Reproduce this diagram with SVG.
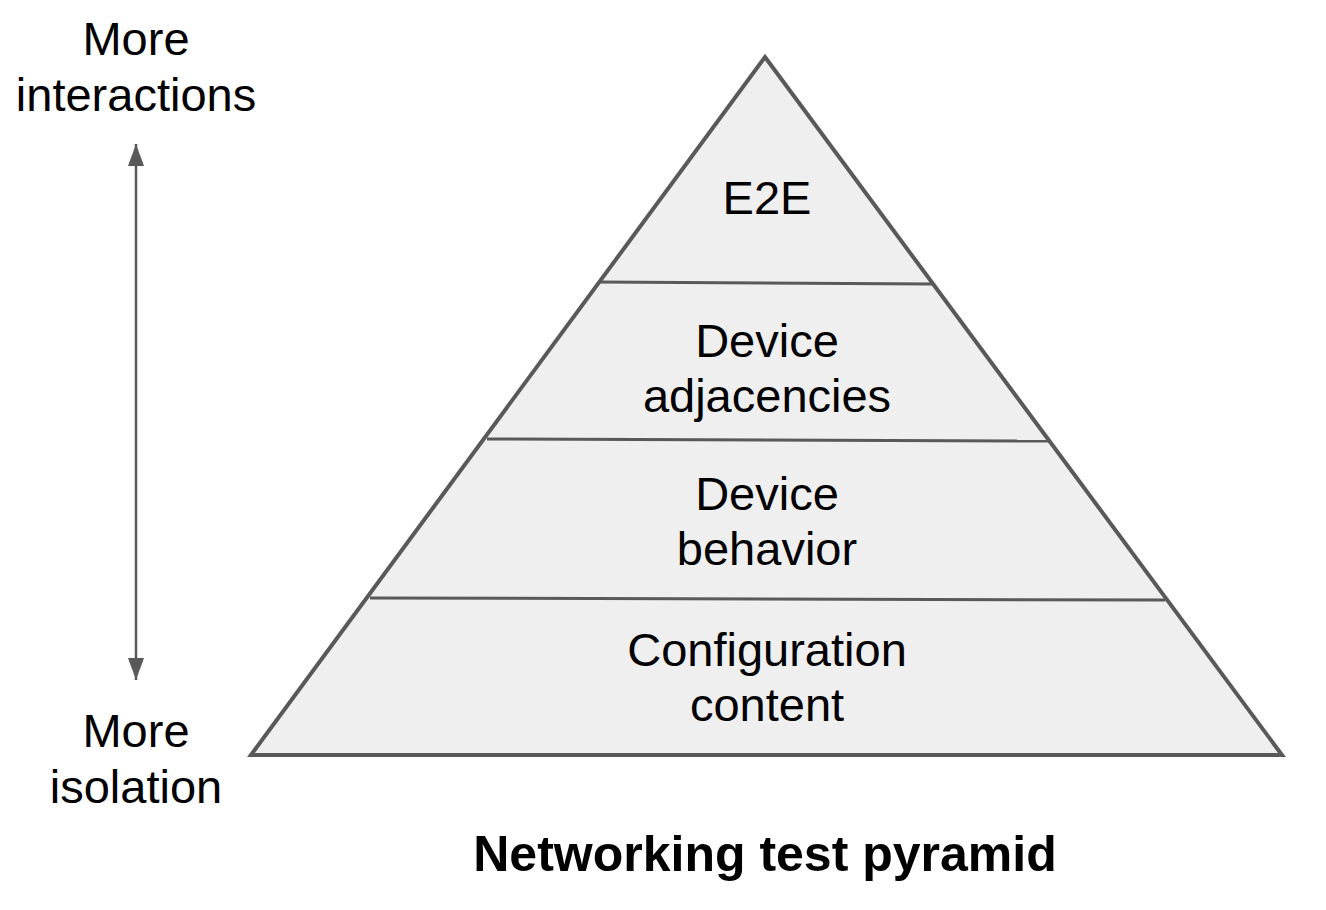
<svg xmlns="http://www.w3.org/2000/svg" width="1326" height="910" viewBox="0 0 1326 910">
<style>
.t{font-family:"Liberation Sans",Arial,sans-serif;font-size:47px;fill:#000;text-anchor:middle}
.b{font-family:"Liberation Sans",Arial,sans-serif;font-size:50px;font-weight:bold;fill:#000;text-anchor:middle}
.ln{stroke:#595959;stroke-width:3;fill:none}
</style>
<defs>
<marker id="ah" viewBox="0 0 22 16" refX="22" refY="8" markerWidth="22" markerHeight="16" markerUnits="userSpaceOnUse" orient="auto-start-reverse">
<path d="M0,0 L22,8 L0,16 z" fill="#595959"/>
</marker>
</defs>
<rect width="1326" height="910" fill="#fff"/>
<g id="pyramid">
<polygon points="765,57 1282,755 251,755" fill="#efefef" stroke="#595959" stroke-width="4" stroke-linejoin="miter"/>
</g>
<g id="connectors">
<line class="ln" x1="599" y1="282" x2="932" y2="284"/>
<line class="ln" x1="487" y1="439" x2="1049" y2="441"/>
<line class="ln" x1="370" y1="598" x2="1165" y2="600"/>
<line x1="136" y1="144" x2="136" y2="680" stroke="#595959" stroke-width="2.5" marker-start="url(#ah)" marker-end="url(#ah)"/>
</g>
<g id="e2e"><text class="t" x="767" y="214">E2E</text></g>
<g id="adj"><text class="t" x="767" y="357">Device</text><text class="t" x="767" y="412">adjacencies</text></g>
<g id="beh"><text class="t" x="767" y="510">Device</text><text class="t" x="767" y="565">behavior</text></g>
<g id="conf"><text class="t" x="767" y="666">Configuration</text><text class="t" x="767" y="721">content</text></g>
<g id="top-label"><text class="t" x="136" y="55">More</text><text class="t" x="136" y="111">interactions</text></g>
<g id="bottom-label"><text class="t" x="136" y="747">More</text><text class="t" x="136" y="803">isolation</text></g>
<g id="title"><text class="b" x="765" y="871">Networking test pyramid</text></g>
</svg>
